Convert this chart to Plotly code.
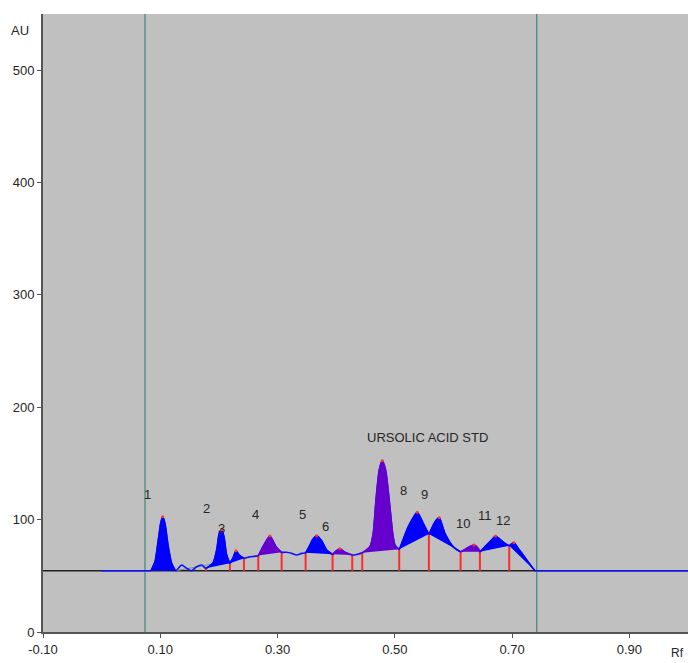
import plotly.graph_objects as go
import numpy as np

# ---- data ----
trace_rf = [0.000, 0.0841, 0.0910, 0.0966, 0.1007, 0.1041, 0.1080, 0.1136, 0.1194, 0.1263,
            0.1365, 0.1450, 0.1535, 0.1621, 0.1706, 0.1779, 0.1900, 0.1962, 0.2006, 0.2047,
            0.2086, 0.2132, 0.2188, 0.2245, 0.2291, 0.2347, 0.2427, 0.2529, 0.2671, 0.2751,
            0.2870, 0.2973, 0.3070, 0.3155, 0.3240, 0.3326, 0.3411, 0.3479, 0.3552, 0.3592,
            0.3667, 0.3752, 0.3837, 0.3939, 0.3996, 0.4064, 0.4149, 0.4274, 0.4349, 0.4444,
            0.4576, 0.4632, 0.4678, 0.4734, 0.4785, 0.4843, 0.4905, 0.4963, 0.5002, 0.5075,
            0.5229, 0.5382, 0.5484, 0.5581, 0.5684, 0.5757, 0.5854, 0.5996, 0.6122, 0.6224,
            0.6349, 0.6422, 0.6451, 0.6565, 0.6651, 0.6719, 0.6792, 0.6877, 0.6951, 0.7031,
            0.7104, 0.7189, 0.7292, 0.7389, 1.000]
trace_au = [54.5, 54.5, 62.5, 81.8, 96.7, 102.6, 96.7, 75.9, 61.1, 54.5,
            59.6, 56.7, 54.5, 58.1, 59.6, 56.7, 61.5, 73.0, 87.8, 91.0,
            84.8, 68.5, 61.1, 66.4, 72.3, 68.5, 65.6, 67.0, 68.0, 75.9,
            85.4, 75.9, 71.0, 71.0, 70.0, 68.5, 70.0, 70.5, 77.4, 81.8,
            85.7, 81.2, 73.0, 69.1, 72.0, 74.0, 71.0, 68.5, 69.0, 70.5,
            76.0, 87.8, 117.0, 144.0, 152.4, 144.0, 117.0, 88.0, 77.4, 73.6,
            93.7, 106.5, 96.7, 87.2, 98.0, 101.7, 87.8, 75.9, 71.4, 74.4,
            77.4, 74.4, 71.4, 77.4, 81.8, 85.4, 82.5, 79.0, 76.8, 79.5,
            74.4, 68.5, 61.1, 54.5, 54.5]

peak_start = [0.0841, 0.1779, 0.2188, 0.2671, 0.3479, 0.3939, 0.4444, 0.5075, 0.5581, 0.6122, 0.6451, 0.6951]
peak_end   = [0.1263, 0.2188, 0.2427, 0.3070, 0.3939, 0.4274, 0.5075, 0.5581, 0.6122, 0.6451, 0.6951, 0.7389]
peak_color = ["#0000FF", "#0000FF", "#0000FF", "#6600CC", "#0000FF", "#6600CC",
              "#6600CC", "#0000FF", "#0000FF", "#6600CC", "#0000FF", "#0000FF"]

apex_rf = [0.1041, 0.2047, 0.2291, 0.2870, 0.3667, 0.4064, 0.4785, 0.5382, 0.5757, 0.6349, 0.6719, 0.7031]
apex_au = [102.6, 91.0, 72.3, 85.4, 85.7, 74.0, 152.4, 106.5, 101.7, 77.4, 85.4, 79.5]

drop_rf = [0.0841, 0.1263, 0.1779, 0.2188, 0.2427, 0.2671, 0.3070, 0.3479, 0.3939, 0.4274,
           0.4444, 0.5075, 0.5581, 0.6122, 0.6451, 0.6951, 0.7389]
drop_au = [54.5, 54.5, 56.7, 61.1, 65.6, 68.0, 71.0, 70.5, 69.1, 68.5,
           70.5, 73.6, 87.2, 71.4, 71.4, 76.8, 54.5]

baseline_au = 54.5
integ_rf = [0.1263, 0.2671]
integ_au = [54.5, 68.0]

label_text = ["1", "2", "3", "4", "5", "6", "URSOLIC ACID STD", "8", "9", "10", "11", "12"]
label_rf = [0.079, 0.178, 0.205, 0.263, 0.343, 0.381, 0.555, 0.514, 0.551, 0.616, 0.654, 0.684]
label_au = [122, 110, 92.5, 105, 105, 94.3, 173.5, 126.3, 122, 97, 103.5, 99.6]

window_rf = [0.074, 0.742]

x_ticks = [-0.10, 0.10, 0.30, 0.50, 0.70, 0.90]
y_ticks = [0, 100, 200, 300, 400, 500]

FONT = "Liberation Sans, Arial, sans-serif"
TXT = "#262626"

fig = go.Figure()

# reference baseline
fig.add_trace(go.Scatter(x=[-0.1, 1.0], y=[baseline_au, baseline_au], mode="lines",
                         line=dict(color="#202020", width=1.3), hoverinfo="skip"))

# window lines
for w in window_rf:
    fig.add_trace(go.Scatter(x=[w, w], y=[0, 550], mode="lines",
                             line=dict(color="#4F8F86", width=1.4), hoverinfo="skip"))

# integration baseline (thin)
fig.add_trace(go.Scatter(x=integ_rf, y=integ_au, mode="lines",
                         line=dict(color="#5F9E8F", width=1), hoverinfo="skip"))

# red drop lines
dx, dy = [], []
for r, a in zip(drop_rf, drop_au):
    dx += [r, r, None]
    dy += [baseline_au, a, None]
fig.add_trace(go.Scatter(x=dx, y=dy, mode="lines",
                         line=dict(color="#FF2A2A", width=2), hoverinfo="skip"))

rf_arr = np.array(trace_rf)
au_arr = np.array(trace_au)

# profile trace: flat ends linear, scanned region smoothed
lo, hi = peak_start[0], peak_end[-1]
m_left = rf_arr <= lo + 1e-6
m_right = rf_arr >= hi - 1e-6
m_mid = (rf_arr >= lo - 1e-6) & (rf_arr <= hi + 1e-6)
for m, shape in ((m_left, "linear"), (m_right, "linear"), (m_mid, "spline")):
    fig.add_trace(go.Scatter(x=list(rf_arr[m]), y=list(au_arr[m]), mode="lines",
                             line=dict(color="#1010FF", width=1.6, shape=shape, smoothing=0.6),
                             hoverinfo="skip"))

# peak fills (drawn over the profile so their outline takes the fill colour)
for s, e, c in zip(peak_start, peak_end, peak_color):
    m = (rf_arr >= s - 1e-6) & (rf_arr <= e + 1e-6)
    fig.add_trace(go.Scatter(x=list(rf_arr[m]), y=list(au_arr[m]), mode="lines",
                             fill="toself", fillcolor=c,
                             line=dict(color=c, width=1.4, shape="spline", smoothing=0.6),
                             hoverinfo="skip"))

# apex dots
fig.add_trace(go.Scatter(x=apex_rf, y=apex_au, mode="markers",
                         marker=dict(color="#FF3030", size=3), hoverinfo="skip"))

# peak labels
for t, r, a in zip(label_text, label_rf, label_au):
    fig.add_annotation(x=r, y=a, text=t, showarrow=False,
                       font=dict(family=FONT, size=13, color=TXT))

fig.add_annotation(xref="paper", yref="paper", x=-0.036, y=0.9725, text="AU",
                   xanchor="center", yanchor="middle",
                   showarrow=False, font=dict(family=FONT, size=13, color=TXT))
fig.add_annotation(xref="paper", yref="paper", x=0.996, y=-0.034, text="Rf",
                   xanchor="right", yanchor="middle", borderpad=0,
                   showarrow=False, font=dict(family=FONT, size=12, color=TXT))

fig.update_layout(
    width=688, height=663,
    margin=dict(l=43, r=0, t=14, b=31),
    paper_bgcolor="white", plot_bgcolor="#C0C0C0",
    showlegend=False,
    xaxis=dict(range=[-0.1, 1.0], tickvals=x_ticks,
               ticktext=[f"{v:.2f}" for v in x_ticks],
               showgrid=False, zeroline=False, showline=True, linecolor="#555555", linewidth=2,
               ticks="outside", ticklen=4, tickcolor="#555555",
               tickfont=dict(family=FONT, size=13, color=TXT)),
    yaxis=dict(range=[0, 550], tickvals=y_ticks,
               showgrid=False, zeroline=False, showline=True, linecolor="#555555", linewidth=2,
               ticks="outside", ticklen=4, tickcolor="#555555",
               tickfont=dict(family=FONT, size=13, color=TXT)),
)

fig.write_html("out.html")
